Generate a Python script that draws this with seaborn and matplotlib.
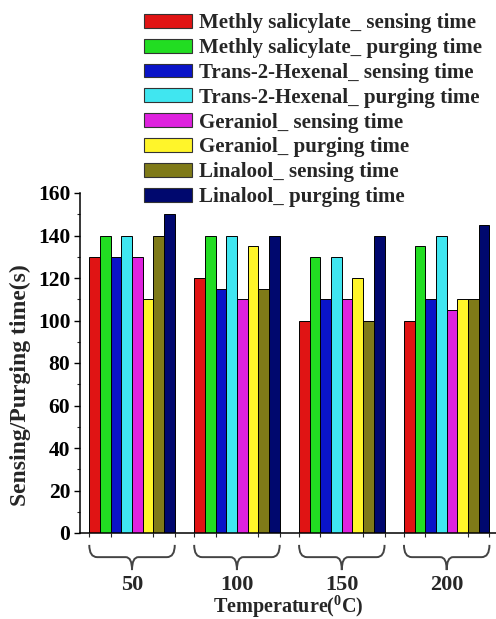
import numpy as np
import pandas as pd
import matplotlib
matplotlib.use('Agg')
import matplotlib.pyplot as plt
import seaborn as sns
from matplotlib.patches import Patch, PathPatch
from matplotlib.path import Path
import matplotlib.transforms as mtransforms

temperatures = ['50', '100', '150', '200']
series_names = [
    'Methly salicylate_ sensing time',
    'Methly salicylate_ purging time',
    'Trans-2-Hexenal_ sensing time',
    'Trans-2-Hexenal_ purging time',
    'Geraniol_ sensing time',
    'Geraniol_ purging time',
    'Linalool_ sensing time',
    'Linalool_ purging time',
]
ms_sensing = [130, 120, 100, 100]
ms_purging = [140, 140, 130, 135]
th_sensing = [130, 115, 110, 110]
th_purging = [140, 140, 130, 140]
ge_sensing = [130, 110, 110, 105]
ge_purging = [110, 135, 120, 110]
li_sensing = [140, 115, 100, 110]
li_purging = [150, 140, 140, 145]
colors = ['#E01414', '#22DD22', '#0A14C8', '#40E6F0',
          '#DE22DE', '#FFF52A', '#7F7A18', '#00086E']
y_ticks = [0, 20, 40, 60, 80, 100, 120, 140, 160]

values = [ms_sensing, ms_purging, th_sensing, th_purging,
          ge_sensing, ge_purging, li_sensing, li_purging]
rows = []
for name, vals in zip(series_names, values):
    for t, v in zip(temperatures, vals):
        rows.append({'Temperature': t, 'time': v, 'series': name})
df = pd.DataFrame(rows)

sns.set_style('ticks')
plt.rcParams['font.family'] = ['Liberation Serif', 'DejaVu Serif']
plt.rcParams['font.weight'] = 'bold'
plt.rcParams['mathtext.fontset'] = 'custom'
plt.rcParams['mathtext.bf'] = 'Liberation Serif:bold'
plt.rcParams['mathtext.rm'] = 'Liberation Serif:bold'

fig = plt.figure(figsize=(4.96, 6.19), dpi=100)
ax = fig.add_axes([80 / 496, 1 - 533 / 619, 416 / 496, 340 / 619])

group_width = 0.815
sns.barplot(data=df, x='Temperature', y='time', hue='series',
            order=temperatures, hue_order=series_names,
            palette=colors, width=group_width, edgecolor='black',
            linewidth=0.7, saturation=1, legend=False, ax=ax, errorbar=None)

ax.set_xlim(-0.496, 3.47)
ax.set_ylim(0, 160)
ax.set_yticks(y_ticks)
ax.set_yticks(np.arange(0, 161, 10), minor=True)
ax.tick_params(axis='y', which='major', length=4, width=1, direction='out',
               labelsize=15.5, pad=3, colors='black')
ax.tick_params(axis='y', which='minor', length=2.5, width=0.8, direction='out')

ax.set_xticks(range(len(temperatures)))
ax.set_xticklabels(temperatures)
minor_x = []
for i in range(len(temperatures)):
    for k in range(5):
        minor_x.append(i - group_width / 2 + k * group_width / 4)
ax.set_xticks(minor_x, minor=True)
ax.tick_params(axis='x', which='major', length=0, labelsize=16, pad=30)
ax.tick_params(axis='x', which='minor', length=3, width=0.8, direction='out')

for lab in ax.get_xticklabels() + ax.get_yticklabels():
    lab.set_fontweight('bold')

ax.set_xlabel(r'Temperature($\mathbf{^{0}}$C)', fontsize=14.5, fontweight='bold')
ax.xaxis.set_label_coords(0.5, (533 - 594) / 340)
ax.set_ylabel('Sensing/Purging time(s)', fontsize=17, fontweight='bold')
ax.yaxis.set_label_coords(-0.118, 0.435)

for s in ['top', 'right']:
    ax.spines[s].set_visible(False)
for s in ['left', 'bottom']:
    ax.spines[s].set_linewidth(1.1)
    ax.spines[s].set_color('black')

# curly braces under the groups
trans = mtransforms.blended_transform_factory(ax.transData, ax.transAxes)
h = group_width / 2
r = 0.075
y0, y1, y2 = -0.035, -0.071, -0.109
for i in range(len(temperatures)):
    c = i
    verts = [(c - h, y0), (c - h, y1), (c - h + r, y1),
             (c - r * 0.8, y1), (c, y1), (c, y2),
             (c, y1), (c + r * 0.8, y1),
             (c + h - r, y1), (c + h, y1), (c + h, y0)]
    codes = [Path.MOVETO, Path.CURVE3, Path.CURVE3,
             Path.LINETO, Path.CURVE3, Path.CURVE3,
             Path.CURVE3, Path.CURVE3,
             Path.LINETO, Path.CURVE3, Path.CURVE3]
    pp = PathPatch(Path(verts, codes), facecolor='none', edgecolor='#444444',
                   lw=1.4, transform=trans, clip_on=False)
    ax.add_patch(pp)

handles = [Patch(facecolor=c, edgecolor='#333333', linewidth=0.8) for c in colors]
fig.legend(handles, series_names, loc='upper left',
           bbox_to_anchor=(144 / 496, 1 - 13 / 619), frameon=False,
           prop={'family': 'Liberation Serif', 'weight': 'bold', 'size': 15},
           handlelength=2.3, handleheight=0.65, handletextpad=0.35,
           labelspacing=0.235, borderpad=0, borderaxespad=0)

fig.savefig('out.png', dpi=100, facecolor='white')
